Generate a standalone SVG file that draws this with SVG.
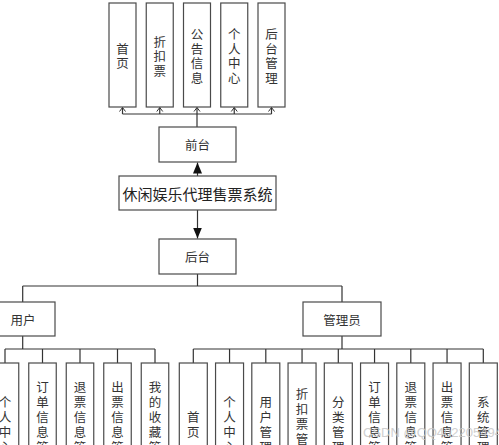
<svg xmlns="http://www.w3.org/2000/svg" width="499" height="445" viewBox="0 0 499 445">
<style>
.box{fill:#fff;stroke:#4a4a4a;stroke-width:1.2}
.ln{fill:none;stroke:#333;stroke-width:1.2}
.t{font-family:"Noto Sans CJK SC","Liberation Sans",sans-serif;font-size:12.5px;fill:#333;text-anchor:middle;dominant-baseline:central}
.title{font-family:"Noto Sans CJK SC","Liberation Serif",serif;font-size:15px;fill:#222;text-anchor:middle;dominant-baseline:central}
.wm{font-family:"Liberation Sans",sans-serif;font-size:13px;fill:#c8c8c8;opacity:0.85}
</style>
<defs>
<marker id="open" markerWidth="8" markerHeight="8" refX="5" refY="4" orient="auto" markerUnits="userSpaceOnUse">
<path d="M1,1 L5,4 L1,7" fill="none" stroke="#333" stroke-width="1"/>
</marker>
<marker id="fill" markerWidth="12" markerHeight="10" refX="11" refY="5" orient="auto" markerUnits="userSpaceOnUse">
<path d="M0,0.5 L11,5 L0,9.5 Z" fill="#111"/>
</marker>
</defs>
<g id="connectors">
<path class="ln" d="M122.5,114 H271.5"/>
<path class="ln" d="M122.5,114 V107.5" marker-end="url(#open)"/>
<path class="ln" d="M159.75,114 V107.5" marker-end="url(#open)"/>
<path class="ln" d="M197,114 V107.5" marker-end="url(#open)"/>
<path class="ln" d="M234.25,114 V107.5" marker-end="url(#open)"/>
<path class="ln" d="M271.5,114 V107.5" marker-end="url(#open)"/>
<path class="ln" d="M197,114 V127"/>
<path class="ln" d="M197.5,176 V162.5" marker-end="url(#fill)"/>
<path class="ln" d="M197.5,210 V238.5" marker-end="url(#fill)"/>
<path class="ln" d="M197.5,274 V286"/>
<path class="ln" d="M22.7,286 H342 M22.7,286 V302 M342,286 V302"/>
<path class="ln" d="M22.7,336 V349 M5,349 H155 M5,349 V363 M42.5,349 V363 M80,349 V363 M117.5,349 V363 M155,349 V363"/>
<path class="ln" d="M342,336 V349 M193.3,349 H483.3 M193.3,349 V363 M229.55,349 V363 M265.8,349 V363 M302.05,349 V363 M338.3,349 V363 M374.55,349 V363 M410.8,349 V363 M447.05,349 V363 M483.3,349 V363"/>
</g>
<g id="n_shouye_top"><rect class="box" x="109" y="3" width="27" height="104"/><text class="t"><tspan x="122.5" y="48">首</tspan><tspan x="122.5" y="62">页</tspan></text></g>
<g id="n_zhekoupiao_top"><rect class="box" x="146.25" y="3" width="27" height="104"/><text class="t"><tspan x="159.75" y="40.5">折</tspan><tspan x="159.75" y="55">扣</tspan><tspan x="159.75" y="69.5">票</tspan></text></g>
<g id="n_gonggao_top"><rect class="box" x="183.5" y="3" width="27" height="104"/><text class="t"><tspan x="197" y="33">公</tspan><tspan x="197" y="47.5">告</tspan><tspan x="197" y="62">信</tspan><tspan x="197" y="76.5">息</tspan></text></g>
<g id="n_geren_top"><rect class="box" x="220.75" y="3" width="27" height="104"/><text class="t"><tspan x="234.25" y="33">个</tspan><tspan x="234.25" y="47.5">人</tspan><tspan x="234.25" y="62">中</tspan><tspan x="234.25" y="76.5">心</tspan></text></g>
<g id="n_houtaiguanli_top"><rect class="box" x="258" y="3" width="27" height="104"/><text class="t"><tspan x="271.5" y="33">后</tspan><tspan x="271.5" y="47.5">台</tspan><tspan x="271.5" y="62">管</tspan><tspan x="271.5" y="76.5">理</tspan></text></g>
<g id="n_qiantai"><rect class="box" x="159" y="127" width="77" height="35"/><text class="t" x="197.5" y="144.5">前台</text></g>
<g id="n_system"><rect class="box" x="119" y="176" width="157" height="34"/><text class="title" x="197.5" y="193">休闲娱乐代理售票系统</text></g>
<g id="n_houtai"><rect class="box" x="159" y="239" width="77" height="35"/><text class="t" x="197.5" y="256.5">后台</text></g>
<g id="n_yonghu"><rect class="box" x="-10" y="302" width="65" height="34"/><text class="t" x="23" y="319">用户</text></g>
<g id="n_guanliyuan"><rect class="box" x="303" y="302" width="78" height="34"/><text class="t" x="342" y="319">管理员</text></g>
<g id="n_u_geren"><rect class="box" x="-8.75" y="363" width="27.5" height="120"/><text class="t"><tspan x="5" y="400.5">个</tspan><tspan x="5" y="415.5">人</tspan><tspan x="5" y="430.5">中</tspan><tspan x="5" y="445.5">心</tspan></text></g>
<g id="n_u_dingdan"><rect class="box" x="28.75" y="363" width="27.5" height="120"/><text class="t"><tspan x="42.5" y="385.5">订</tspan><tspan x="42.5" y="400.5">单</tspan><tspan x="42.5" y="415.5">信</tspan><tspan x="42.5" y="430.5">息</tspan><tspan x="42.5" y="445.5">管</tspan><tspan x="42.5" y="460.5">理</tspan></text></g>
<g id="n_u_tuipiao"><rect class="box" x="66.25" y="363" width="27.5" height="120"/><text class="t"><tspan x="80" y="385.5">退</tspan><tspan x="80" y="400.5">票</tspan><tspan x="80" y="415.5">信</tspan><tspan x="80" y="430.5">息</tspan><tspan x="80" y="445.5">管</tspan><tspan x="80" y="460.5">理</tspan></text></g>
<g id="n_u_chupiao"><rect class="box" x="103.75" y="363" width="27.5" height="120"/><text class="t"><tspan x="117.5" y="385.5">出</tspan><tspan x="117.5" y="400.5">票</tspan><tspan x="117.5" y="415.5">信</tspan><tspan x="117.5" y="430.5">息</tspan><tspan x="117.5" y="445.5">管</tspan><tspan x="117.5" y="460.5">理</tspan></text></g>
<g id="n_u_shoucang"><rect class="box" x="141.25" y="363" width="27.5" height="120"/><text class="t"><tspan x="155" y="385.5">我</tspan><tspan x="155" y="400.5">的</tspan><tspan x="155" y="415.5">收</tspan><tspan x="155" y="430.5">藏</tspan><tspan x="155" y="445.5">管</tspan><tspan x="155" y="460.5">理</tspan></text></g>
<g id="n_a_shouye"><rect class="box" x="179.3" y="363" width="28" height="120"/><text class="t"><tspan x="193.3" y="415.5">首</tspan><tspan x="193.3" y="430.5">页</tspan></text></g>
<g id="n_a_geren"><rect class="box" x="215.55" y="363" width="28" height="120"/><text class="t"><tspan x="229.55" y="400.5">个</tspan><tspan x="229.55" y="415.5">人</tspan><tspan x="229.55" y="430.5">中</tspan><tspan x="229.55" y="445.5">心</tspan></text></g>
<g id="n_a_yonghu"><rect class="box" x="251.8" y="363" width="28" height="120"/><text class="t"><tspan x="265.8" y="400.5">用</tspan><tspan x="265.8" y="415.5">户</tspan><tspan x="265.8" y="430.5">管</tspan><tspan x="265.8" y="445.5">理</tspan></text></g>
<g id="n_a_zhekou"><rect class="box" x="288.05" y="363" width="28" height="120"/><text class="t"><tspan x="302.05" y="393">折</tspan><tspan x="302.05" y="408">扣</tspan><tspan x="302.05" y="423">票</tspan><tspan x="302.05" y="438">管</tspan><tspan x="302.05" y="453">理</tspan></text></g>
<g id="n_a_fenlei"><rect class="box" x="324.3" y="363" width="28" height="120"/><text class="t"><tspan x="338.3" y="400.5">分</tspan><tspan x="338.3" y="415.5">类</tspan><tspan x="338.3" y="430.5">管</tspan><tspan x="338.3" y="445.5">理</tspan></text></g>
<g id="n_a_dingdan"><rect class="box" x="360.55" y="363" width="28" height="120"/><text class="t"><tspan x="374.55" y="385.5">订</tspan><tspan x="374.55" y="400.5">单</tspan><tspan x="374.55" y="415.5">信</tspan><tspan x="374.55" y="430.5">息</tspan><tspan x="374.55" y="445.5">管</tspan><tspan x="374.55" y="460.5">理</tspan></text></g>
<g id="n_a_tuipiao"><rect class="box" x="396.8" y="363" width="28" height="120"/><text class="t"><tspan x="410.8" y="385.5">退</tspan><tspan x="410.8" y="400.5">票</tspan><tspan x="410.8" y="415.5">信</tspan><tspan x="410.8" y="430.5">息</tspan><tspan x="410.8" y="445.5">管</tspan><tspan x="410.8" y="460.5">理</tspan></text></g>
<g id="n_a_chupiao"><rect class="box" x="433.05" y="363" width="28" height="120"/><text class="t"><tspan x="447.05" y="385.5">出</tspan><tspan x="447.05" y="400.5">票</tspan><tspan x="447.05" y="415.5">信</tspan><tspan x="447.05" y="430.5">息</tspan><tspan x="447.05" y="445.5">管</tspan><tspan x="447.05" y="460.5">理</tspan></text></g>
<g id="n_a_xitong"><rect class="box" x="469.3" y="363" width="28" height="120"/><text class="t"><tspan x="483.3" y="400.5">系</tspan><tspan x="483.3" y="415.5">统</tspan><tspan x="483.3" y="430.5">管</tspan><tspan x="483.3" y="445.5">理</tspan></text></g>
<text class="wm" x="363" y="437">CSDN @QQ402205494</text>
</svg>
